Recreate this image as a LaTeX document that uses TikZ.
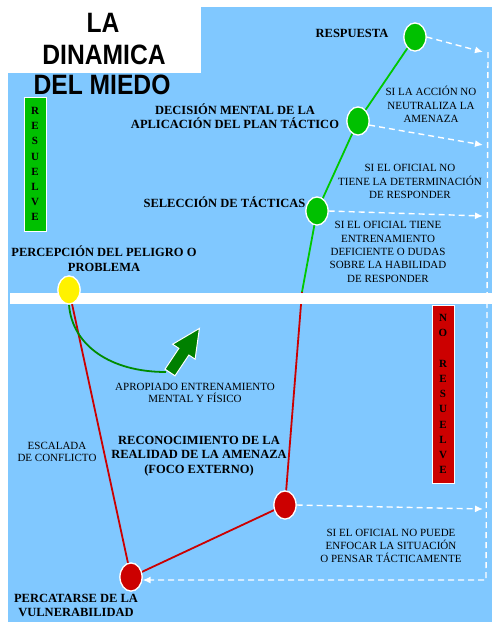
\documentclass[tikz,border=0pt]{standalone}
\usepackage{fontspec}
\setmainfont{Liberation Serif}
\newfontfamily\titlefont{Liberation Sans}
\usetikzlibrary{shapes.geometric,arrows.meta}
\definecolor{skyblue}{RGB}{128,200,255}
\definecolor{dotgreen}{RGB}{0,192,0}
\definecolor{linegreen}{RGB}{0,200,0}
\definecolor{darkgreen}{RGB}{0,128,0}
\definecolor{arcgreen}{RGB}{0,140,0}
\definecolor{dotred}{RGB}{204,0,0}
\begin{document}
\begin{tikzpicture}[x=1pt,y=-1pt,
  dot/.style={ellipse, draw=white, line width=1.2pt, minimum width=22pt, minimum height=28pt, inner sep=0pt},
  gdot/.style={dot, fill=dotgreen},
  rdot/.style={dot, fill=dotred},
  ydot/.style={dot, fill=yellow},
  lbl/.style={font=\fontsize{12.5}{14.5}\selectfont\bfseries, align=center, inner sep=0pt},
  note/.style={font=\fontsize{11}{13.3}\selectfont, align=center, inner sep=0pt},
  ttl/.style={font=\titlefont\bfseries\fontsize{28}{31}\selectfont, inner sep=0pt},
  vbox/.style={rectangle, draw=white, line width=1pt, minimum width=22pt, inner sep=0pt,
     font=\fontsize{11}{15.2}\selectfont\bfseries, align=center},
  gline/.style={linegreen, line width=1.8pt},
  rline/.style={dotred, line width=1.8pt},
  dashline/.style={white, line width=1.4pt, dash pattern=on 6pt off 4pt},
  dasharrow/.style={dashline, -{Latex[length=8pt,width=7pt]}}
]
\useasboundingbox (0,0) rectangle (492,622);
\fill[white] (0,0) rectangle (492,622);
\fill[skyblue] (8,73) -- (201,73) -- (201,7) -- (492,7) -- (492,622) -- (8,622) -- cycle;

% title
\node[ttl] (t1) at (103,23) {\scalebox{0.88}[1]{LA}};
\node[ttl] (t2) at (104,55) {\scalebox{0.88}[1]{DINAMICA}};
\node[ttl] (t3) at (102,85) {\scalebox{0.88}[1]{DEL MIEDO}};

% circles (positions)
\node[gdot] (resp) at (415,37) {};
\node[gdot] (dec) at (358,121) {};
\node[gdot] (sel) at (317,211) {};
\node[ydot] (yel) at (69,290) {};
\node[rdot] (red1) at (285,505) {};
\node[rdot] (red2) at (131,577) {};

% coordinates
\coordinate (a1) at (483,52);
\coordinate (a2) at (483,145);
\coordinate (a3) at (483,216);
\coordinate (a4) at (483,509);
\coordinate (vtop) at (488,52);
\coordinate (vbot) at (486,580);
\coordinate (bend) at (302,292);
\coordinate (arcend) at (166,372);

% dashed connectors
\draw[dasharrow] (resp.east) -- (a1);
\draw[dasharrow] (dec.-20) -- (a2);
\draw[dasharrow] (sel.east) -- (a3);
\draw[dasharrow] (red1.east) -- (a4);
\draw[dasharrow] (vtop) -- (vbot) -- (vbot -| red2.east);

% solid connectors
\draw[gline] (resp) -- (dec);
\draw[gline] (dec) -- (sel);
\draw[gline] (sel) -- (bend);
\draw[rline] (bend) -- (red1);
\draw[rline] (red1) -- (red2);
\draw[rline] (yel) -- (red2);
\draw[arcgreen, line width=1.8pt] (yel.south) .. controls (72,345) and (110,372) .. (arcend);

% band
\fill[white] (10,293) rectangle (492,304);

% redraw circles on top
\node[gdot] at (resp) {};
\node[gdot] at (dec) {};
\node[gdot] at (sel) {};
\node[ydot] at (yel) {};
\node[rdot] at (red1) {};
\node[rdot] at (red2) {};

% big arrow
\begin{scope}[shift={(170,372.5)}, rotate=56.3]
\filldraw[fill=darkgreen, draw=white, line width=1pt]
  (0,-6) -- (25,-6) -- (25,-13.5) -- (53,0) -- (25,13.5) -- (25,6) -- (0,6) -- cycle;
\end{scope}

% boxes
\node[vbox, fill=dotgreen, minimum height=134pt] (res) at (35,164) {R\\E\\S\\U\\E\\L\\V\\E};
\node[vbox, fill=dotred, minimum height=178pt] (nores) at (443,394) {N\\O\\[15.2pt]R\\E\\S\\U\\E\\L\\V\\E};

% labels
\node[lbl] (lresp) at (352,33) {RESPUESTA};
\node[lbl] (ldec) at (235,116) {DECISIÓN MENTAL DE LA\\APLICACIÓN DEL PLAN TÁCTICO};
\node[lbl] (lsel) at (224.5,202) {SELECCIÓN DE TÁCTICAS};
\node[lbl] (lper) at (104,258.5) {PERCEPCIÓN DEL PELIGRO O\\PROBLEMA};
\node[lbl] (lrec) at (199,456) {RECONOCIMIENTO DE LA\\REALIDAD DE LA AMENAZA\\(FOCO EXTERNO)};
\node[lbl] (lpct) at (76,605.5) {PERCATARSE DE LA\\VULNERABILIDAD};

\node[note] (n1) at (431,104.5) {SI LA ACCIÓN NO\\NEUTRALIZA LA\\AMENAZA};
\node[note] (n2) at (410,181.5) {SI EL OFICIAL NO\\TIENE LA DETERMINACIÓN\\DE RESPONDER};
\node[note] (n3) at (388,252) {SI EL OFICIAL TIENE\\ENTRENAMIENTO\\DEFICIENTE O DUDAS\\SOBRE LA HABILIDAD\\DE RESPONDER};
\node[note, font=\fontsize{11}{12.5}\selectfont] (n4) at (195,393) {APROPIADO ENTRENAMIENTO\\MENTAL Y FÍSICO};
\node[note, font=\fontsize{11}{12.2}\selectfont] (n5) at (57,452) {ESCALADA\\DE CONFLICTO};
\node[note] (n6) at (391,546) {SI EL OFICIAL NO PUEDE\\ENFOCAR LA SITUACIÓN\\O PENSAR TÁCTICAMENTE};
\end{tikzpicture}
\end{document}
